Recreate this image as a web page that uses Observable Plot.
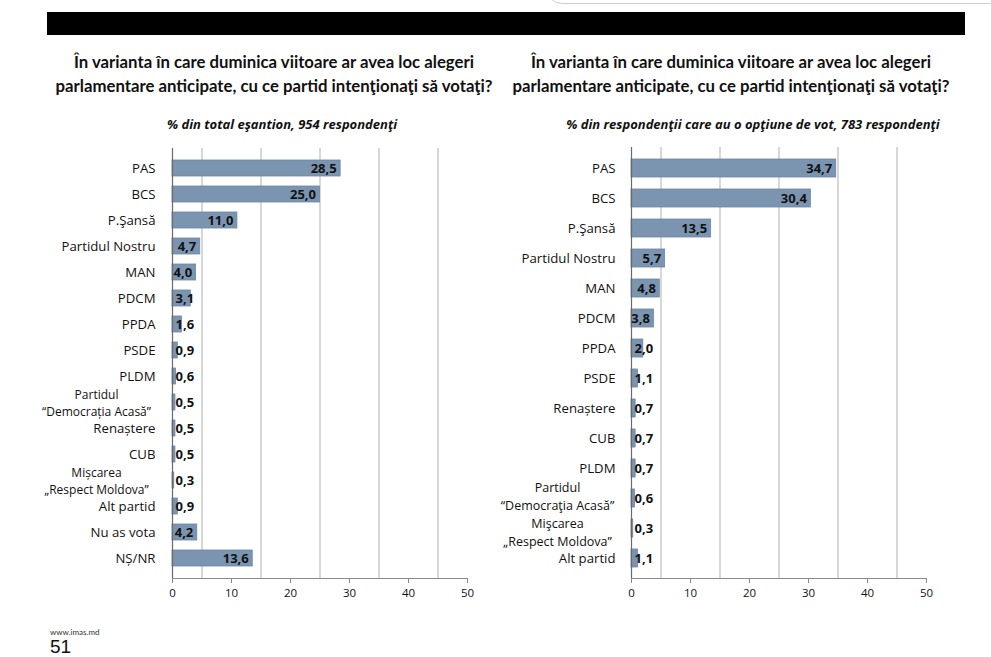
<!DOCTYPE html>
<html>
<head>
<meta charset="utf-8">
<script src="https://cdn.jsdelivr.net/npm/d3@7"></script>
<script src="https://cdn.jsdelivr.net/npm/@observablehq/plot@0.6"></script>
<style>
  body { margin: 0; background: #fff; font-family: Lato, "Open Sans", sans-serif; color: #111; }
  #page { position: relative; width: 991px; height: 657px; overflow: hidden; background: #fff; }
  .blackbar { position: absolute; left: 47px; top: 12px; width: 918px; height: 23px; background: #000; }
  .curve { position: absolute; left: 546px; top: -20px; width: 470px; height: 22px; border: 1.5px solid #cfcfcf; border-bottom-left-radius: 16px; }
  .title { position: absolute; top: 50px; width: 480px; text-align: center; font-weight: bold; font-size: 16.75px; line-height: 24px; color: #111; }
  .sub { position: absolute; top: 115px; width: 460px; text-align: center; font-weight: bold; font-style: italic; font-size: 13px; color: #111; font-family: "Open Sans", sans-serif; }
  .plot { position: absolute; top: 140px; }
  .plot svg { display: block; }
  .foot1 { position: absolute; left: 50px; top: 627px; font-size: 8px; color: #333; }
  .foot2 { position: absolute; left: 50px; top: 637px; font-size: 19px; line-height: 19px; color: #111; font-family: "Liberation Sans", sans-serif; }
</style>
</head>
<body>
<div id="page">
  <div class="curve"></div>
  <div class="blackbar"></div>
  <div class="title" id="t1" style="left:34px;"></div>
  <div class="title" id="t2" style="left:491px;"></div>
  <div class="sub" id="s1" style="left:52px;"></div>
  <div class="sub" id="s2" style="left:523px;"></div>
  <div class="plot" id="p1" style="left:0px;"></div>
  <div class="plot" id="p2" style="left:490px;"></div>
  <div class="foot1">www.imas.md</div>
  <div class="foot2">51</div>
</div>
<script>
// ---- Data ----
const titleText = "În varianta în care duminica viitoare ar avea loc alegeri<br>parlamentare anticipate, cu ce partid intenţionaţi să votaţi?";
const leftSubtitle = "% din total eşantion, 954 respondenţi";
const rightSubtitle = "% din respondenţii care au o opţiune de vot, 783 respondenţi";

const leftParties = ["PAS", "BCS", "P.Şansă", "Partidul Nostru", "MAN", "PDCM", "PPDA", "PSDE", "PLDM",
  "Partidul\n“Democrația Acasă”", "Renaștere", "CUB", "Mișcarea\n„Respect Moldova”", "Alt partid", "Nu as vota", "NȘ/NR"];
const leftValues = [28.5, 25.0, 11.0, 4.7, 4.0, 3.1, 1.6, 0.9, 0.6, 0.5, 0.5, 0.5, 0.3, 0.9, 4.2, 13.6];

const rightParties = ["PAS", "BCS", "P.Şansă", "Partidul Nostru", "MAN", "PDCM", "PPDA", "PSDE", "Renaștere", "CUB", "PLDM",
  "Partidul\n“Democraţia Acasă”", "Mişcarea\n„Respect Moldova”", "Alt partid"];
const rightValues = [34.7, 30.4, 13.5, 5.7, 4.8, 3.8, 2.0, 1.1, 0.7, 0.7, 0.7, 0.6, 0.3, 1.1];

const xTicks = [0, 10, 20, 30, 40, 50];
const gridTicks = [5, 15, 25, 35, 45];

// ---- Text ----
document.getElementById("t1").innerHTML = titleText;
document.getElementById("t2").innerHTML = titleText;
document.getElementById("s1").textContent = leftSubtitle;
document.getElementById("s2").textContent = rightSubtitle;

const fmt = v => d3.format(".1f")(v).replace(".", ",");
const barColor = "#7b95b1";
const FONT = "'Open Sans', sans-serif";

function chart(parties, values, o) {
  const data = parties.map((p, i) => ({party: p, v: values[i]}));
  const multi = data.filter(d => d.party.includes("\n"));
  const multiMarks = multi.map((d, i) => Plot.text([d], {x: () => 0, y: "party", text: "party", textAnchor: "middle",
    dx: o.multiDx, dy: o.multiDy[i], fontSize: o.multiSize, lineHeight: 1.4, fill: "#111"}));
  return Plot.plot({
    width: o.width,
    height: 470,
    marginLeft: o.marginLeft,
    marginRight: o.marginRight,
    marginTop: o.marginTop,
    marginBottom: 32,
    style: {fontFamily: FONT, color: "#111", background: "transparent"},
    x: {domain: [0, 50]},
    y: {domain: parties, paddingInner: o.pi, paddingOuter: o.po},
    marks: [
      Plot.ruleX(gridTicks, {stroke: "#bdbdbd", strokeWidth: 1.2}),
      Plot.barX(data, {x: "v", y: "party", fill: barColor, stroke: "#6c86a2", strokeWidth: 0.8}),
      Plot.ruleX([0], {stroke: "#6a6a6a", strokeWidth: 1.2}),
      Plot.frame({anchor: "bottom", stroke: "#8a8a8a", strokeWidth: 1.2}),
      Plot.axisX({ticks: xTicks, tickSize: 5, tickPadding: 5, fontSize: 11.5, stroke: "#8a8a8a", label: null, tickFormat: d => d}),
      Plot.axisY({tickSize: 0, tickPadding: o.tickPadding, fontSize: 13.2, label: null,
        tickFormat: d => d.includes("\n") ? "" : d}),
      ...multiMarks,
      Plot.text(data.filter(d => d.v >= 3.5), {x: "v", y: "party", text: d => fmt(d.v), textAnchor: "end", dx: -4,
        fontSize: 13, fontWeight: "bold", fill: "#111"}),
      Plot.text(data.filter(d => d.v < 3.5), {x: () => 0, y: "party", text: d => fmt(d.v), textAnchor: "start", dx: 3,
        fontSize: 13, fontWeight: "bold", fill: "#111"})
    ]
  });
}

document.getElementById("p1").append(chart(leftParties, leftValues,
  {width: 490, marginLeft: 172, marginRight: 23, marginTop: 8, pi: 0.375, po: 0.25, tickPadding: 17, multiDx: -76, multiDy: [0, 0], multiSize: 12}));
document.getElementById("p2").append(chart(rightParties, rightValues,
  {width: 460, marginLeft: 141, marginRight: 24, marginTop: 7, pi: 0.4, po: 0.27, tickPadding: 16, multiDx: -74, multiDy: [-3, 3], multiSize: 12.5}));
</script>
</body>
</html>
